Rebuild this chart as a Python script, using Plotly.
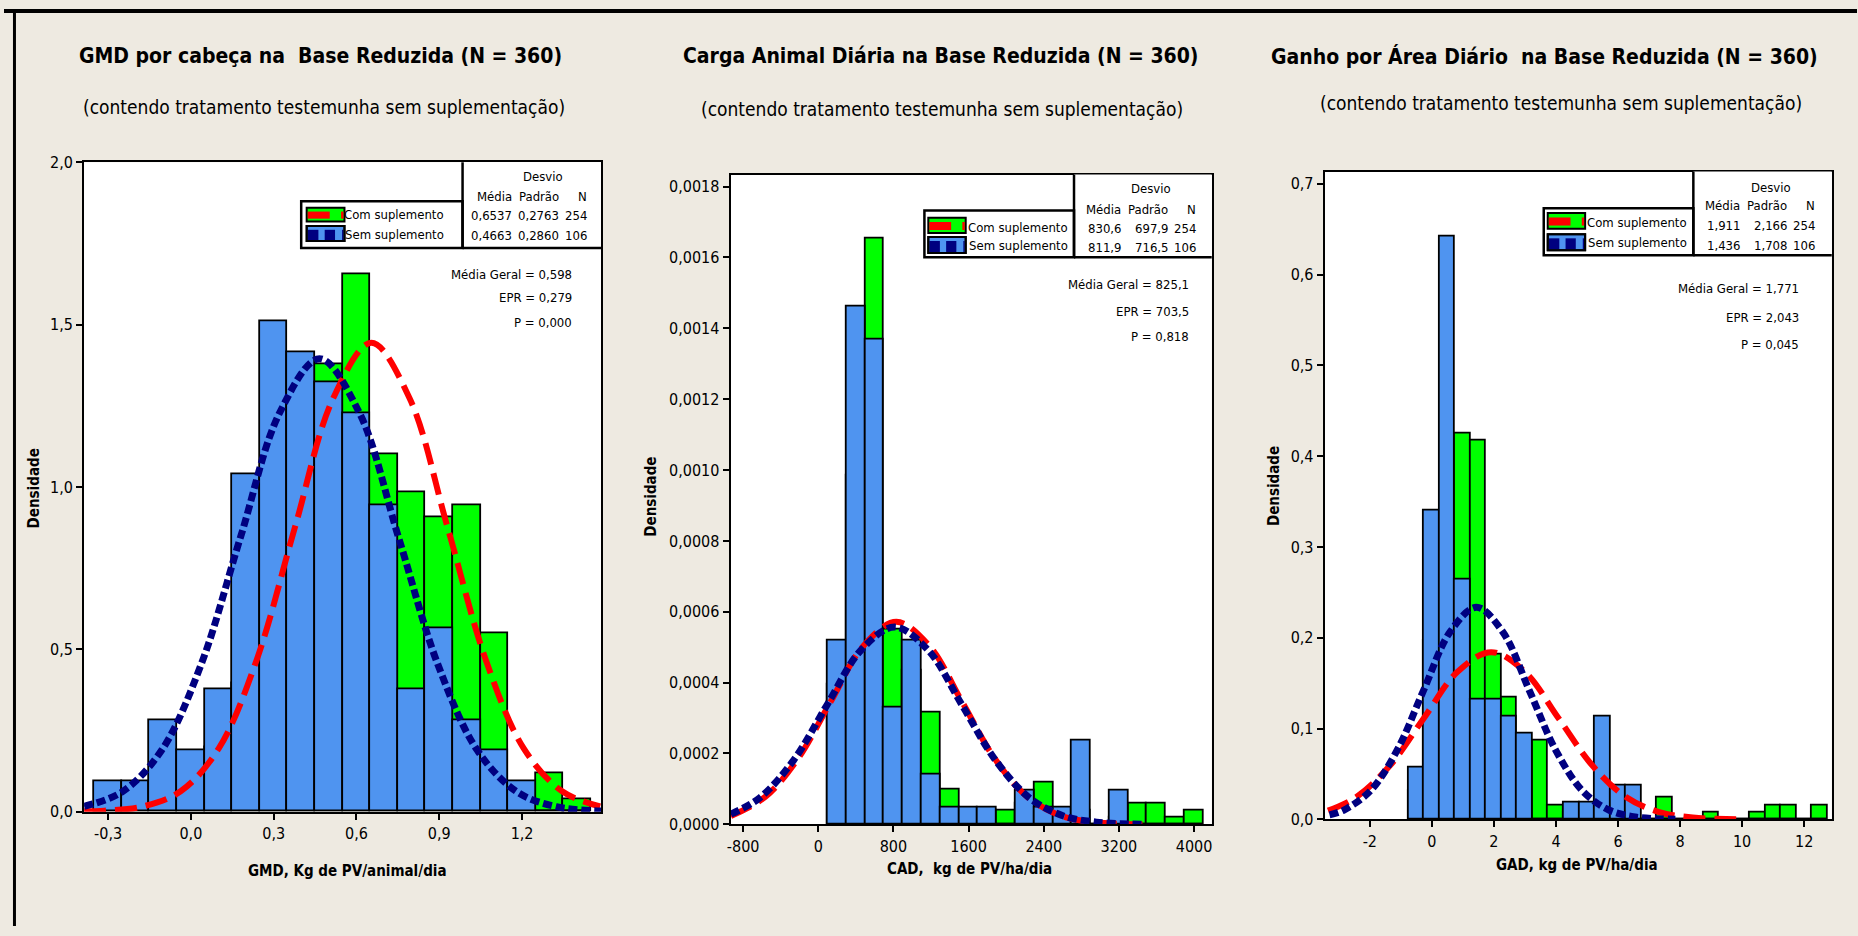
import plotly.graph_objects as go

W, H = 1858, 936
# The photographed page shows page row Y at about 0.983*Y + 7.9; layout rows are pre-compensated for that.
YA, YB = 0.983, 7.9
BG = "#EEEAE1"
BLUE = "#4F94F0"
GREEN = "#00FF00"
RED = "#FF0000"
NAVY = "#000080"
FONT = "DejaVu Sans Condensed, Liberation Sans Narrow, Arial Narrow, sans-serif"

# ---------------- data (densities) ----------------
gmd_centers = [-0.3, -0.2, -0.1, 0.0, 0.1, 0.2, 0.3, 0.4, 0.5, 0.6, 0.7, 0.8, 0.9, 1.0, 1.1, 1.2, 1.3, 1.4]
gmd_sem = [0.094, 0.094, 0.283, 0.189, 0.377, 1.038, 1.509, 1.415, 1.321, 1.226, 0.943, 0.377, 0.566, 0.283, 0.189, 0.094, 0, 0]
gmd_com = [0, 0, 0.039, 0.079, 0.197, 0.394, 0.709, 0.866, 1.378, 1.654, 1.102, 0.984, 0.906, 0.945, 0.551, 0.039, 0.118, 0.039]
gmd_fit_com_x = [-0.387, -0.313, -0.175, -0.037, 0.101, 0.239, 0.377, 0.516, 0.654, 0.792, 0.930, 1.068, 1.206, 1.345, 1.483]
gmd_fit_com_y = [0.0012, 0.0032, 0.016, 0.063, 0.195, 0.469, 0.876, 1.274, 1.444, 1.274, 0.876, 0.469, 0.195, 0.063, 0.016]
gmd_fit_sem_x = [-0.387, -0.249, -0.106, 0.037, 0.180, 0.323, 0.466, 0.609, 0.752, 0.895, 1.038, 1.181, 1.324, 1.486]
gmd_fit_sem_y = [0.0164, 0.0612, 0.189, 0.453, 0.846, 1.231, 1.395, 1.231, 0.846, 0.453, 0.189, 0.0612, 0.0155, 0.0024]

cad_centers = [200, 400, 600, 800, 1000, 1200, 1400, 1600, 1800, 2000, 2200, 2400, 2600, 2800, 3000, 3200, 3400, 3600, 3800, 4000]
cad_sem = [0.000519, 0.001462, 0.001368, 0.000330, 0.000519, 0.000142, 0.0000472, 0.0000472, 0.0000472, 0,
           0.0000943, 0.0000472, 0.0000472, 0.000236, 0, 0.0000943, 0, 0, 0, 0]
cad_com = [0.000394, 0.000984, 0.001654, 0.000551, 0.000433, 0.000315, 0.0000984, 0.0000394, 0.0000394, 0.0000394,
           0.0000591, 0.000118, 0.0000394, 0.0000394, 0, 0.0000197, 0.0000591, 0.0000591, 0.0000197, 0.0000394]
cad_fit_com_x = [-930, -565, -216, 133, 482, 831, 1180, 1529, 1878, 2226, 2575, 2924, 3273, 3450]
cad_fit_com_y = [0.0000238, 0.0000774, 0.0001856, 0.0003467, 0.0005044, 0.0005716, 0.0005044, 0.0003467,
                 0.0001856, 0.0000774, 0.0000251, 0.0000063, 0.0000013, 0.0000004]
cad_fit_sem_x = [-930, -621, -263, 95, 454, 812, 1170, 1528, 1887, 2245, 2603, 2961, 3320, 3450]
cad_fit_sem_y = [0.0000289, 0.0000753, 0.0001808, 0.0003377, 0.0004914, 0.0005568, 0.0004914, 0.0003377,
                 0.0001808, 0.0000753, 0.0000244, 0.0000062, 0.0000012, 0.0000006]

gad_centers = [-0.5, 0.0, 0.5, 1.0, 1.5, 2.0, 2.5, 3.0, 3.5, 4.0, 4.5, 5.0, 5.5, 6.0, 6.5, 7.0, 7.5, 8.0, 8.5,
               9.0, 9.5, 10.0, 10.5, 11.0, 11.5, 12.0, 12.5]
gad_sem = [0.0566, 0.3396, 0.6415, 0.2642, 0.1321, 0.1321, 0.1132, 0.0943, 0, 0, 0.0189, 0.0189, 0.1132, 0.0377,
           0.0377, 0, 0, 0, 0, 0, 0, 0, 0, 0, 0, 0, 0]
gad_com = [0.0315, 0.1969, 0.3150, 0.4252, 0.4173, 0.1811, 0.1339, 0.0709, 0.0866, 0.0157, 0.0079, 0.0079, 0.0236,
           0, 0, 0, 0.0236, 0, 0, 0.0079, 0, 0, 0.0079, 0.0157, 0.0157, 0, 0.0157]
gad_fit_com_x = [-3.35, -2.421, -1.338, -0.255, 0.828, 1.911, 2.994, 4.077, 5.160, 6.243, 7.326, 8.409, 9.492, 10.0]
gad_fit_com_y = [0.0096, 0.0249, 0.0598, 0.1117, 0.1626, 0.1842, 0.1626, 0.1117, 0.0598, 0.0249, 0.0081, 0.0020, 0.0004, 0.0002]
gad_fit_sem_x = [-3.3, -2.834, -1.980, -1.126, -0.272, 0.582, 1.436, 2.290, 3.144, 3.998, 4.852, 5.706, 6.560, 7.414, 7.85]
gad_fit_sem_y = [0.0050, 0.0103, 0.0316, 0.0758, 0.1417, 0.2062, 0.2336, 0.2062, 0.1417, 0.0758, 0.0316, 0.0103,
                 0.0026, 0.0005, 0.0002]

gmd_xticks = [-0.3, 0.0, 0.3, 0.6, 0.9, 1.2]
gmd_xtext = ["-0,3", "0,0", "0,3", "0,6", "0,9", "1,2"]
gmd_yticks = [0.0, 0.5, 1.0, 1.5, 2.0]
gmd_ytext = ["0,0", "0,5", "1,0", "1,5", "2,0"]
cad_xticks = [-800, 0, 800, 1600, 2400, 3200, 4000]
cad_xtext = ["-800", "0", "800", "1600", "2400", "3200", "4000"]
cad_yticks = [0, 0.0002, 0.0004, 0.0006, 0.0008, 0.0010, 0.0012, 0.0014, 0.0016, 0.0018]
cad_ytext = ["0,0000", "0,0002", "0,0004", "0,0006", "0,0008", "0,0010", "0,0012", "0,0014", "0,0016", "0,0018"]
gad_xticks = [-2, 0, 2, 4, 6, 8, 10, 12]
gad_xtext = ["-2", "0", "2", "4", "6", "8", "10", "12"]
gad_yticks = [0, 0.1, 0.2, 0.3, 0.4, 0.5, 0.6, 0.7]
gad_ytext = ["0,0", "0,1", "0,2", "0,3", "0,4", "0,5", "0,6", "0,7"]

titles = ["GMD por cabeça na  Base Reduzida (N = 360)",
          "Carga Animal Diária na Base Reduzida (N = 360)",
          "Ganho por Área Diário  na Base Reduzida (N = 360)"]
subtitle = "(contendo tratamento testemunha sem suplementação)"
xtitles = ["GMD, Kg de PV/animal/dia", "CAD,  kg de PV/ha/dia", "GAD, kg de PV/ha/dia"]
groups = ["Com suplemento", "Sem suplemento"]
stats_com = [["0,6537", "0,2763", "254"], ["830,6", "697,9", "254"], ["1,911", "2,166", "254"]]
stats_sem = [["0,4663", "0,2860", "106"], ["811,9", "716,5", "106"], ["1,436", "1,708", "106"]]
media_geral = ["Média Geral = 0,598", "Média Geral = 825,1", "Média Geral = 1,771"]
epr = ["EPR = 0,279", "EPR = 703,5", "EPR = 2,043"]
pval = ["P = 0,000", "P = 0,818", "P = 0,045"]


def px(x):
    return x / W


def py(y):
    return 1 - ((y - YB) / YA) / H


fig = go.Figure()
shapes = []
annots = []


def ann(x, y, text, size=13, bold=False, xanchor="center", angle=0):
    annots.append(dict(x=px(x), y=py(y), xref="paper", yref="paper", text=("<b>%s</b>" % text) if bold else text,
                       showarrow=False, xanchor=xanchor, yanchor="middle", textangle=angle,
                       font=dict(family=FONT, size=size, color="black")))


def rect(x0, y0, x1, y1, fill=None, line="black", lw=2):
    shapes.append(dict(type="rect", xref="paper", yref="paper", x0=px(x0), x1=px(x1), y0=py(y1), y1=py(y0),
                       fillcolor=fill if fill else "rgba(0,0,0,0)",
                       line=dict(color=line, width=lw), layer="above"))


def seg(x0, y0, x1, y1, lw=2, color="black"):
    shapes.append(dict(type="line", xref="paper", yref="paper", x0=px(x0), x1=px(x1), y0=py(y0), y1=py(y1),
                       line=dict(color=color, width=lw), layer="above"))


panels = [
    dict(box=(80.3, 161.7, 598.6, 813.3), xr=[-0.387, 1.486], yr=[0, 2.0], bw=0.1,
         c=gmd_centers, sem=gmd_sem, com=gmd_com,
         fcx=gmd_fit_com_x, fcy=gmd_fit_com_y, fsx=gmd_fit_sem_x, fsy=gmd_fit_sem_y,
         xt=(gmd_xticks, gmd_xtext), yt=(gmd_yticks, gmd_ytext)),
    dict(box=(728.6, 174, 1211, 826), xr=[-932.7, 4188], yr=[0, 0.001834], bw=200,
         c=cad_centers, sem=cad_sem, com=cad_com,
         fcx=cad_fit_com_x, fcy=cad_fit_com_y, fsx=cad_fit_sem_x, fsy=cad_fit_sem_y,
         xt=(cad_xticks, cad_xtext), yt=(cad_yticks, cad_ytext)),
    dict(box=(1324.3, 171, 1832.7, 821), xr=[-3.454, 12.89], yr=[0, 0.7135], bw=0.5,
         c=gad_centers, sem=gad_sem, com=gad_com,
         fcx=gad_fit_com_x, fcy=gad_fit_com_y, fsx=gad_fit_sem_x, fsy=gad_fit_sem_y,
         xt=(gad_xticks, gad_xtext), yt=(gad_yticks, gad_ytext)),
]

layout_axes = {}
for i, p in enumerate(panels):
    n = "" if i == 0 else str(i + 1)
    xa, ya = "x" + n, "y" + n
    x0, y0, x1, y1 = p["box"]
    common = dict(showline=True, linecolor="black", linewidth=2, mirror=True, ticks="outside",
                  ticklen=6, tickwidth=2, tickcolor="black", showgrid=False, zeroline=False,
                  tickfont=dict(family=FONT, size=16, color="black"), fixedrange=True)
    layout_axes["xaxis" + n] = dict(domain=[px(x0), px(x1)], range=p["xr"], anchor=ya,
                                    tickmode="array", tickvals=p["xt"][0], ticktext=p["xt"][1], **common)
    layout_axes["yaxis" + n] = dict(domain=[py(y1), py(y0)], range=p["yr"], anchor=xa,
                                    tickmode="array", tickvals=p["yt"][0], ticktext=p["yt"][1], **common)
    fig.add_trace(go.Bar(x=p["c"], y=p["com"], width=p["bw"], xaxis=xa, yaxis=ya, showlegend=False,
                         marker=dict(color=GREEN, line=dict(color="black", width=1.8))))
    fig.add_trace(go.Bar(x=p["c"], y=p["sem"], width=p["bw"], xaxis=xa, yaxis=ya, showlegend=False,
                         marker=dict(color=BLUE, line=dict(color="black", width=1.8))))
    fig.add_trace(go.Scatter(x=p["fcx"], y=p["fcy"], mode="lines", xaxis=xa, yaxis=ya, showlegend=False,
                             line=dict(color=RED, width=6, dash="22px,9px", shape="spline")))
    fig.add_trace(go.Scatter(x=p["fsx"], y=p["fsy"], mode="lines", xaxis=xa, yaxis=ya, showlegend=False,
                             line=dict(color=NAVY, width=7, dash="9px,4px", shape="spline")))

boxes = [
    dict(lg=(298, 200.7, 459.8, 247.7), top=161.7, right=598.6,
         sw=(303.5, 341.4, 207.3, 221, 225.7, 240.7), lt=(443.6, 214.5, 234.5),
         cols=(511.5, 558.3, 586.6), desvio=(540, 176), rows=(195.7, 215, 235),
         st=(571.7, 274, 297.7, 322.7)),
    dict(lg=(922.9, 210, 1072.9, 257), top=174, right=1211,
         sw=(926.8, 964.3, 217.3, 232.7, 236.7, 252.7), lt=(1069, 226.7, 245.5),
         cols=(1122, 1169, 1197), desvio=(1150, 188.3), rows=(209, 227.7, 247.3),
         st=(1190, 284, 311, 336.7)),
    dict(lg=(1543.9, 207.7, 1693.9, 255), top=171, right=1832.7,
         sw=(1547.9, 1585.4, 212.7, 228.3, 234, 250), lt=(1689.6, 222.3, 241.7),
         cols=(1742.7, 1790, 1817.5), desvio=(1771.7, 186.7), rows=(205, 225, 245),
         st=(1802, 288.3, 317.7, 345)),
]

for i, b in enumerate(boxes):
    lx0, ly0, lx1, ly1 = b["lg"]
    rect(lx1, b["top"], b["right"], ly1, fill="white", lw=0)
    rect(lx0, ly0, lx1, ly1, fill="white", lw=2.5)
    seg(lx1, b["top"], lx1, ly1, lw=2.5)
    seg(lx1, ly1, b["right"], ly1, lw=2.5)
    sx0, sx1, cy0, cy1, sy0, sy1 = b["sw"]
    w = sx1 - sx0
    rect(sx0, cy0, sx1, cy1, fill=GREEN, lw=2)
    h = cy1 - cy0
    rect(sx0 + 1, cy0 + 0.28 * h, sx0 + 0.61 * w, cy0 + 0.8 * h, fill=RED, line=RED, lw=0)
    rect(sx0 + 0.91 * w, cy0 + 0.28 * h, sx1 - 1, cy0 + 0.8 * h, fill=RED, line=RED, lw=0)
    rect(sx0, sy0, sx1, sy1, fill=BLUE, lw=2)
    h = sy1 - sy0
    for a0, a1 in [(0.0, 0.31), (0.45, 0.75), (0.91, 1.0)]:
        rect(sx0 + a0 * w + 1, sy0 + 0.25 * h, sx0 + a1 * w - (1 if a1 == 1.0 else 0), sy1 - 1,
             fill=NAVY, line=NAVY, lw=0)
    rect(sx0, sy0, sx1, sy1, fill=None, lw=2)
    ann(b["lt"][0], b["lt"][1], groups[0], size=13, xanchor="right")
    ann(b["lt"][0], b["lt"][2], groups[1], size=13, xanchor="right")
    c1, c2, c3 = b["cols"]
    ann(b["desvio"][0], b["desvio"][1], "Desvio", size=13)
    r0, r1, r2 = b["rows"]
    ann(c1, r0, "Média", size=13, xanchor="right")
    ann(c2, r0, "Padrão", size=13, xanchor="right")
    ann(c3, r0, "N", size=13, xanchor="right")
    for r, vals in [(r1, stats_com[i]), (r2, stats_sem[i])]:
        ann(c1, r, vals[0], size=13, xanchor="right")
        ann(c2, r, vals[1], size=13, xanchor="right")
        ann(c3, r, vals[2], size=13, xanchor="right")
    sx, s1, s2, s3 = b["st"]
    ann(sx, s1, media_geral[i], size=13, xanchor="right")
    ann(sx, s2, epr[i], size=13, xanchor="right")
    ann(sx, s3, pval[i], size=13, xanchor="right")

title_pos = [(317, 55.5, 320.5, 106.6), (940, 55.5, 941, 107.8), (1545, 55.5, 1561, 102)]
for i, (tx, ty, sx, sy) in enumerate(title_pos):
    ann(tx, ty, titles[i], size=21, bold=True)
    ann(sx, sy, subtitle, size=19)

xt_pos = [(344, 873), (968, 871), (1577, 867)]
for i, (x, y) in enumerate(xt_pos):
    ann(x, y, xtitles[i], size=15, bold=True)
yt_pos = [(31, 489), (649, 497), (1274, 487)]
for x, y in yt_pos:
    ann(x, y, "Densidade", size=15, bold=True, angle=-90)

# outer frame lines (top band and left rule)
shapes.append(dict(type="rect", xref="paper", yref="paper", x0=0, x1=1, y0=1 - 4.0 / H, y1=1,
                   fillcolor="black", line=dict(width=0), layer="above"))
shapes.append(dict(type="rect", xref="paper", yref="paper", x0=px(9), x1=px(12), y0=0, y1=1,
                   fillcolor="black", line=dict(width=0), layer="above"))

fig.update_layout(
    width=W, height=H, margin=dict(l=0, r=0, t=0, b=0),
    paper_bgcolor=BG, plot_bgcolor="white", barmode="overlay", bargap=0,
    shapes=shapes, annotations=annots, showlegend=False,
    **layout_axes
)

fig.write_html("out.html", config={"displayModeBar": False},
               post_script="document.body.style.background='#EEEAE1';")
